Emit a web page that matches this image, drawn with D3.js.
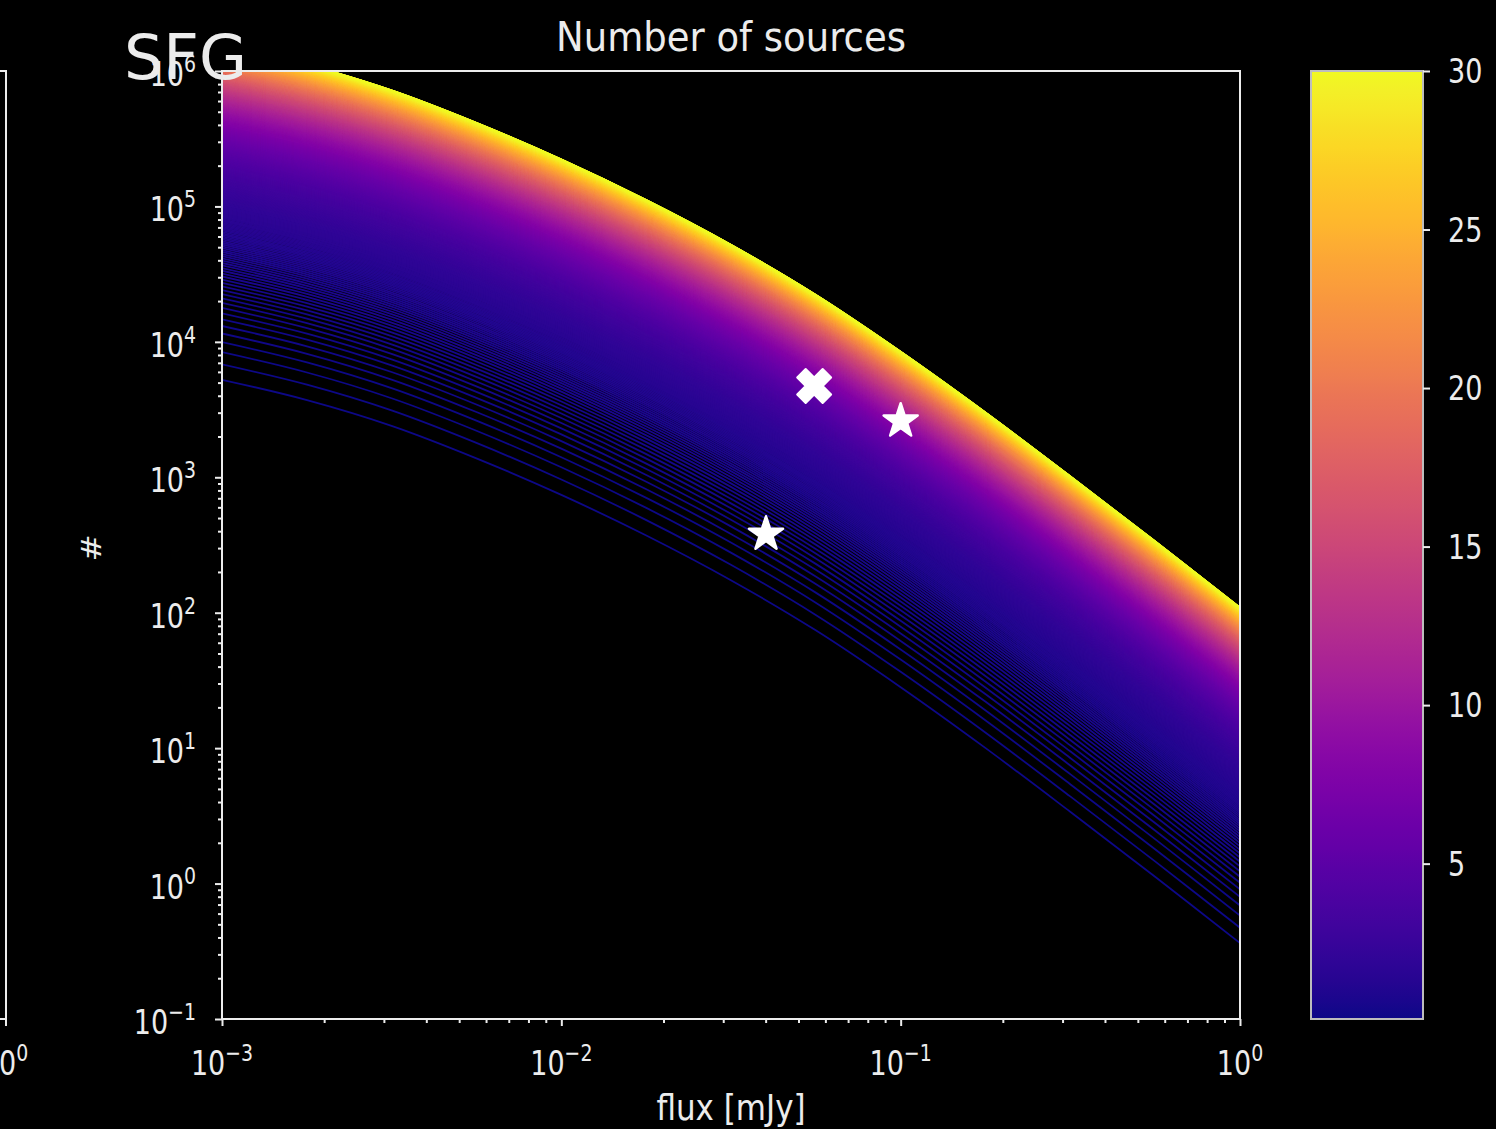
<!DOCTYPE html>
<html>
<head>
<meta charset="utf-8">
<script src="https://cdn.jsdelivr.net/npm/d3@7"></script>
<style>
  html, body { margin: 0; padding: 0; background: #000; }
  svg { display: block; }
  text { font-family: "DejaVu Sans", sans-serif; fill: #ececec; }
</style>
</head>
<body>
<svg id="chart" width="1496" height="1129"></svg>
<script>
// Cumulative source counts N(>S) per unit of the survey parameter,
// listed at these flux densities (mJy).
const baseFlux      = [0.001, 0.00178, 0.00316, 0.00562, 0.01, 0.0178, 0.0316, 0.0562, 0.1, 0.178, 0.316, 0.562, 1.0];
const baseLogCounts = [4.72,  4.57,    4.38,    4.14,    3.87, 3.57,   3.24,   2.87,   2.45, 2.00,  1.53,  1.05,  0.56];

// Survey parameter (colour bar) covered by the family of curves.
const paramRange = [0.1, 30];
const curveCount = 1000;

// Individual measurements.
const crossPoints = [{ flux: 0.0556, count: 4720 }];
const starPoints  = [{ flux: 0.1, count: 2600 }, { flux: 0.0401, count: 380 }];

// Axis ticks.
const xTickExps  = [-3, -2, -1, 0];
const yTickExps  = [-1, 0, 1, 2, 3, 4, 5, 6];
const cbarTicks  = [5, 10, 15, 20, 25, 30];

const titleText  = "Number of sources";
const xLabelText = "flux [mJy]";
const yLabelText = "#";
const panelTag   = "SFG";

const W = 1496, H = 1129;
const plot = { left: 222, right: 1240, top: 71, bottom: 1019 };
const cbar = { left: 1311, right: 1423 };
const ink = "#ececec";
const S = 1.25;       // vertical stretch of the figure's lettering
const tickFs = 27;

const svg = d3.select("#chart");
svg.append("rect").attr("width", W).attr("height", H).attr("fill", "#000");

const x = d3.scaleLog().domain([1e-3, 1]).range([plot.left, plot.right]);
const y = d3.scaleLog().domain([1e-1, 1e6]).range([plot.bottom, plot.top]);
const colour = d3.scaleSequential(d3.interpolatePlasma).domain(paramRange);

const defs = svg.append("defs");
defs.append("clipPath").attr("id", "plotClip").append("rect")
  .attr("x", plot.left).attr("y", plot.top)
  .attr("width", plot.right - plot.left).attr("height", plot.bottom - plot.top);

// One curve per parameter value, evenly spaced over the colour range.
const params = d3.range(curveCount).map(i =>
  paramRange[0] + i * (paramRange[1] - paramRange[0]) / (curveCount - 1));

const line = d3.line()
  .x(d => x(d[0]))
  .y(d => y(d[1]))
  .curve(d3.curveCatmullRom);

svg.append("g").attr("clip-path", "url(#plotClip)")
  .selectAll("path")
  .data(params)
  .join("path")
  .attr("fill", "none")
  .attr("stroke", p => colour(p))
  .attr("stroke-width", 1.8)
  .attr("d", p => line(baseFlux.map((f, k) => [f, Math.pow(10, baseLogCounts[k]) * p])));

// Markers
const markers = svg.append("g");
markers.selectAll("path.cross")
  .data(crossPoints)
  .join("path")
  .attr("class", "cross")
  .attr("d", d3.symbol(d3.symbolCross, 720)())
  .attr("transform", d => `translate(${x(d.flux)},${y(d.count)}) rotate(45)`)
  .attr("fill", "#fff").attr("stroke", "#fff").attr("stroke-width", 2).attr("stroke-linejoin", "round");
markers.selectAll("path.star")
  .data(starPoints)
  .join("path")
  .attr("class", "star")
  .attr("d", d3.symbol(d3.symbolStar, 360)())
  .attr("transform", d => `translate(${x(d.flux)},${y(d.count)})`)
  .attr("fill", "#fff").attr("stroke", "#fff").attr("stroke-width", 2.5).attr("stroke-linejoin", "round");

// Axis ticks (major and minor, log decades)
function minorTicks(lo, hi) {
  const out = [];
  for (let e = lo; e < hi; e++) for (let m = 2; m <= 9; m++) out.push(m * Math.pow(10, e));
  return out;
}
function styleAxis(g) {
  g.select(".domain").remove();
  g.selectAll(".tick line").attr("stroke", ink).attr("stroke-width", 2);
  g.selectAll(".tick text").remove();
}
svg.append("g").attr("transform", `translate(${plot.left},0)`)
  .call(d3.axisLeft(y).tickValues(yTickExps.map(e => Math.pow(10, e))).tickSize(7)).call(styleAxis);
svg.append("g").attr("transform", `translate(${plot.left},0)`)
  .call(d3.axisLeft(y).tickValues(minorTicks(-1, 6)).tickSize(4)).call(styleAxis);
svg.append("g").attr("transform", `translate(0,${plot.bottom})`)
  .call(d3.axisBottom(x).tickValues(xTickExps.map(e => Math.pow(10, e))).tickSize(7)).call(styleAxis);
svg.append("g").attr("transform", `translate(0,${plot.bottom})`)
  .call(d3.axisBottom(x).tickValues(minorTicks(-3, 0)).tickSize(4)).call(styleAxis);

// Frame
svg.append("rect")
  .attr("x", plot.left).attr("y", plot.top)
  .attr("width", plot.right - plot.left).attr("height", plot.bottom - plot.top)
  .attr("fill", "none").attr("stroke", ink).attr("stroke-width", 2);

// Power-of-ten labels
function powLabel(g, exp, fs) {
  const t = g.append("text").attr("font-size", fs);
  t.append("tspan").text("10");
  t.append("tspan").attr("font-size", fs * 0.7).attr("dy", -fs * 0.42)
    .text(exp < 0 ? "\u2212" + (-exp) : String(exp));
  return t;
}
yTickExps.forEach(e => {
  const g = svg.append("g").attr("transform", `translate(196,${y(Math.pow(10, e)) + 15}) scale(1,${S})`);
  powLabel(g, e, tickFs).attr("text-anchor", "end");
});
xTickExps.forEach(e => {
  const g = svg.append("g").attr("transform", `translate(${x(Math.pow(10, e))},1075) scale(1,${S})`);
  powLabel(g, e, tickFs).attr("text-anchor", "middle");
});

// Colour bar
const cbY = d3.scaleLinear().domain(paramRange).range([plot.bottom, plot.top]);
const grad = defs.append("linearGradient").attr("id", "plasmaBar")
  .attr("x1", 0).attr("y1", 1).attr("x2", 0).attr("y2", 0);
d3.range(0, 1.0001, 0.02).forEach(t => {
  grad.append("stop").attr("offset", t).attr("stop-color", d3.interpolatePlasma(t));
});
svg.append("rect")
  .attr("x", cbar.left).attr("y", plot.top)
  .attr("width", cbar.right - cbar.left).attr("height", plot.bottom - plot.top)
  .attr("fill", "url(#plasmaBar)").attr("stroke", "#bdbdbd").attr("stroke-width", 2);
svg.append("g").attr("transform", `translate(${cbar.right},0)`)
  .call(d3.axisRight(cbY).tickValues(cbarTicks).tickSize(7)).call(styleAxis);
cbarTicks.forEach(v => {
  svg.append("g").attr("transform", `translate(1448,${cbY(v) + 12}) scale(1,${S})`)
    .append("text").attr("font-size", tickFs).text(v);
});

// Titles
svg.append("g").attr("transform", `translate(${(plot.left + plot.right) / 2},51) scale(1,1.1)`)
  .append("text").attr("font-size", 37).attr("text-anchor", "middle").text(titleText);
svg.append("g").attr("transform", `translate(${(plot.left + plot.right) / 2},1120) scale(1,1.12)`)
  .append("text").attr("font-size", 31).attr("text-anchor", "middle").text(xLabelText);
svg.append("g").attr("transform", `translate(101,548) scale(1,${S}) rotate(-90)`)
  .append("text").attr("font-size", 26).attr("text-anchor", "middle").text(yLabelText);
svg.append("text").attr("x", 124).attr("y", 79).attr("font-size", 62).attr("fill", "#e6e6e6").text(panelTag);

// Edge of the neighbouring panel on the left
const nb = svg.append("g").attr("stroke", ink).attr("stroke-width", 2).attr("fill", "none");
nb.append("path").attr("d", `M0,${plot.top}H6V${plot.bottom + 7}`);
nb.append("path").attr("d", `M0,${plot.bottom}H6`);
const nbLabel = svg.append("g").attr("transform", `translate(5,1075) scale(1,${S})`);
powLabel(nbLabel, 0, tickFs).attr("text-anchor", "middle");
</script>
</body>
</html>
